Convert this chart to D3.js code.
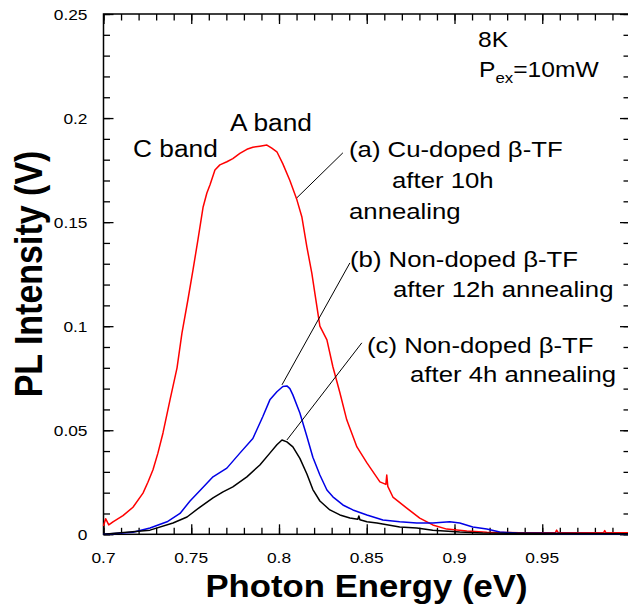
<!DOCTYPE html>
<html>
<head>
<meta charset="utf-8">
<script src="https://cdn.jsdelivr.net/npm/d3@7"></script>
<style>
  html, body { margin: 0; padding: 0; background: #fff; }
  svg { display: block; }
  text { font-family: "Liberation Sans", Arial, Helvetica, sans-serif; fill: #000; }
</style>
</head>
<body>
<svg id="chart" width="628" height="612"></svg>
<script>
// ---------------- data ----------------
const xTicks = [0.7, 0.75, 0.8, 0.85, 0.9, 0.95, 1];
const xTickLabels = ["0.7", "0.75", "0.8", "0.85", "0.9", "0.95"];
const yTicks = [0, 0.05, 0.1, 0.15, 0.2, 0.25];
const yTickLabels = ["0", "0.05", "0.1", "0.15", "0.2", "0.25"];

// (a) Cu-doped β-TF after 10h annealing (red)
const energyA = [0.7000, 0.7012, 0.7030, 0.7054, 0.7111, 0.7168, 0.7225, 0.7253, 0.7282, 0.7310, 0.7339,
  0.7379, 0.7419, 0.7447, 0.7481, 0.7510, 0.7538, 0.7567, 0.7589, 0.7607, 0.7635, 0.7663,
  0.7703, 0.7737, 0.7777, 0.7817, 0.7851, 0.7891, 0.7931, 0.7959, 0.7988, 0.8022, 0.8062,
  0.8102, 0.8130, 0.8159, 0.8187, 0.8204, 0.8233, 0.8273, 0.8307, 0.8347, 0.8386, 0.8444,
  0.8501, 0.8575, 0.8609, 0.8614, 0.8620, 0.8649, 0.8728, 0.8802, 0.8876, 0.8956, 0.9070,
  0.9184, 0.9372, 0.9575, 0.9582, 0.9590, 0.9713, 0.9850, 0.9856, 0.9862, 1.0000];
const intensityA = [0.0040, 0.0075, 0.0045, 0.0060, 0.0090, 0.0130, 0.0198, 0.0250, 0.0310, 0.0390, 0.0487,
  0.0646, 0.0800, 0.0967, 0.1127, 0.1270, 0.1415, 0.1570, 0.1640, 0.1680, 0.1750, 0.1775,
  0.1790, 0.1805, 0.1830, 0.1850, 0.1860, 0.1865, 0.1870, 0.1855, 0.1838, 0.1780, 0.1700,
  0.1607, 0.1526, 0.1380, 0.1255, 0.1160, 0.1000, 0.0934, 0.0805, 0.0680, 0.0550, 0.0420,
  0.0343, 0.0252, 0.0240, 0.0285, 0.0230, 0.0179, 0.0126, 0.0078, 0.0045, 0.0025, 0.0016,
  0.0010, 0.0008, 0.0008, 0.0020, 0.0009, 0.0008, 0.0008, 0.0018, 0.0008, 0.0008];

// (b) Non-doped β-TF after 12h annealing (blue)
const energyB = [0.7000, 0.7168, 0.7265, 0.7362, 0.7436, 0.7493, 0.7550, 0.7624, 0.7703, 0.7777, 0.7851,
  0.7908, 0.7948, 0.7988, 0.8022, 0.8045, 0.8062, 0.8079, 0.8119, 0.8159, 0.8193, 0.8233,
  0.8273, 0.8307, 0.8364, 0.8421, 0.8501, 0.8592, 0.8688, 0.8785, 0.8876, 0.8973, 0.9030,
  0.9104, 0.9184, 0.9258, 0.9355, 0.9600, 1.0000];
const intensityB = [0.0000, 0.0010, 0.0030, 0.0060, 0.0100, 0.0160, 0.0210, 0.0276, 0.0318, 0.0390, 0.0460,
  0.0566, 0.0646, 0.0685, 0.0710, 0.0713, 0.0700, 0.0670, 0.0583, 0.0470, 0.0370, 0.0285,
  0.0213, 0.0180, 0.0141, 0.0117, 0.0093, 0.0069, 0.0060, 0.0054, 0.0054, 0.0060, 0.0054,
  0.0035, 0.0025, 0.0011, 0.0006, 0.0004, 0.0003];

// (c) Non-doped β-TF after 4h annealing (black)
const energyC = [0.7000, 0.7265, 0.7396, 0.7476, 0.7550, 0.7624, 0.7681, 0.7737, 0.7817, 0.7891, 0.7948,
  0.7988, 0.8017, 0.8045, 0.8079, 0.8119, 0.8159, 0.8193, 0.8233, 0.8290, 0.8347, 0.8404,
  0.8449, 0.8455, 0.8461, 0.8501, 0.8558, 0.8688, 0.8785, 0.8876, 0.9030, 0.9161, 1.0000];
const intensityC = [0.0000, 0.0020, 0.0054, 0.0083, 0.0131, 0.0175, 0.0204, 0.0228, 0.0276, 0.0333, 0.0390,
  0.0430, 0.0453, 0.0444, 0.0420, 0.0365, 0.0290, 0.0215, 0.0160, 0.0117, 0.0093, 0.0078,
  0.0072, 0.0088, 0.0070, 0.0060, 0.0054, 0.0035, 0.0030, 0.0020, 0.0011, 0.0006, 0.0003];

const seriesNames = ["(a)", "(b)", "(c)"];
const seriesColors = ["#ff0000", "#0000e6", "#000000"];

// ---------------- layout ----------------
const svg = d3.select("#chart");
const SX = 1.12; // horizontal text stretch seen in the reference
const x = d3.scaleLinear().domain([0.7, 1.0]).range([103.5, 630]);
const y = d3.scaleLinear().domain([0, 0.25]).range([534.3, 14]);

const series = [
  energyA.map((e, i) => [e, intensityA[i]]),
  energyB.map((e, i) => [e, intensityB[i]]),
  energyC.map((e, i) => [e, intensityC[i]])
];

// axes with inward ticks (major + minor)
const minorX = d3.range(70, 101).map(d => d / 100);
const minorY = d3.range(0, 26).map(d => d / 100);

function tickAxis(axisGen, transform, majors, minors) {
  const g = svg.append("g").attr("transform", transform);
  g.call(axisGen.tickValues(minors).tickSize(6.5).tickFormat(""));
  g.selectAll(".domain").remove();
  const g2 = svg.append("g").attr("transform", transform);
  g2.call(axisGen.tickValues(majors).tickSize(10).tickFormat(""));
  g2.selectAll(".domain").remove();
  [g, g2].forEach(gg => gg.selectAll("line").attr("stroke", "#000").attr("stroke-width", 1.3));
}
// bottom (ticks up), top (ticks down), left (ticks right), right (ticks left)
tickAxis(d3.axisTop(x), `translate(0,${y(0)})`, xTicks, minorX);
tickAxis(d3.axisBottom(x), `translate(0,${y(0.25)})`, xTicks, minorX);
tickAxis(d3.axisRight(y), `translate(${x(0.7)},0)`, yTicks, minorY);
tickAxis(d3.axisLeft(y), `translate(${x(1.0)},0)`, yTicks, minorY);

// frame
svg.append("rect")
  .attr("x", x(0.7)).attr("y", y(0.25))
  .attr("width", x(1.0) - x(0.7)).attr("height", y(0) - y(0.25))
  .attr("fill", "none").attr("stroke", "#000").attr("stroke-width", 1.5);

// tick labels
svg.append("g").selectAll("text").data(xTicks.slice(0, xTickLabels.length)).join("text")
  .attr("transform", d => `translate(${x(d)},${y(0) + 29}) scale(${SX},1)`)
  .attr("text-anchor", "middle").attr("font-size", 15.5)
  .text((d, i) => xTickLabels[i]);
svg.append("g").selectAll("text").data(yTicks).join("text")
  .attr("transform", d => `translate(${x(0.7) - 16},${y(d) + 6}) scale(${SX},1)`)
  .attr("text-anchor", "end").attr("font-size", 15.5)
  .text((d, i) => yTickLabels[i]);

// curves
const line = d3.line().x(d => x(d[0])).y(d => y(d[1]));
svg.append("g").selectAll("path").data(series).join("path")
  .attr("d", line)
  .attr("fill", "none")
  .attr("stroke", (d, i) => seriesColors[i])
  .attr("stroke-width", 1.5)
  .attr("stroke-linejoin", "round");

// leader lines (in data units)
const leaders = [
  [[0.8102, 0.1617], [0.8364, 0.1833]],
  [[0.8017, 0.0718], [0.8404, 0.1304]],
  [[0.8045, 0.0453], [0.8472, 0.0920]]
];
svg.append("g").selectAll("line").data(leaders).join("line")
  .attr("x1", d => x(d[0][0])).attr("y1", d => y(d[0][1]))
  .attr("x2", d => x(d[1][0])).attr("y2", d => y(d[1][1]))
  .attr("stroke", "#000").attr("stroke-width", 1);

// texts
function label(tx, ty, str, size, weight) {
  return svg.append("text")
    .attr("transform", `translate(${tx},${ty}) scale(${SX},1)`)
    .attr("font-size", size)
    .attr("font-weight", weight || "normal")
    .text(str);
}
label(133, 157, "C band", 23.5);
label(230, 131, "A band", 23.5);
label(478, 47, "8K", 22);
const pex = svg.append("text")
  .attr("transform", `translate(479,77) scale(${SX},1)`)
  .attr("font-size", 22);
pex.append("tspan").text("P");
pex.append("tspan").attr("font-size", 15).attr("dy", 6).text("ex");
pex.append("tspan").attr("dy", -6).text("=10mW");

label(349, 157, "(a) Cu-doped \u03B2-TF", 23);
label(392, 188, "after 10h", 23);
label(349, 219, "annealing", 23);
label(350, 267, "(b) Non-doped \u03B2-TF", 23);
label(393, 297, "after 12h annealing", 23);
label(367, 353, "(c) Non-doped \u03B2-TF", 23);
label(410, 382, "after 4h annealing", 23);

// axis titles
svg.append("text")
  .attr("transform", `translate(366.5,597) scale(${SX},1)`)
  .attr("text-anchor", "middle").attr("font-size", 31).attr("font-weight", "bold")
  .text("Photon Energy (eV)");
svg.append("text")
  .attr("transform", `translate(42,274) scale(${SX},1) rotate(-90)`)
  .attr("text-anchor", "middle").attr("font-size", 34).attr("font-weight", "bold")
  .text("PL Intensity (V)");
</script>
</body>
</html>
